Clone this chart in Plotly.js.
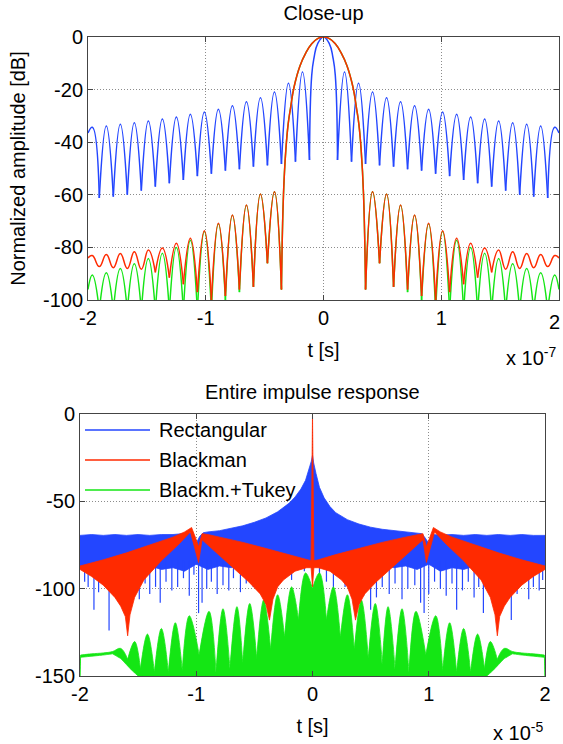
<!DOCTYPE html>
<html>
<head>
<meta charset="utf-8">
<script src="https://cdn.plot.ly/plotly-3.0.1.min.js"></script>
<style>html,body{margin:0;padding:0;background:#fff;}#chart{width:563px;height:744px;}</style>
</head>
<body>
<div id="chart"></div>
<script>
// ===== Close-up (time in units of 1e-7 s, amplitude in dB) =====
// Rectangular: lobe boundaries (nulls and plot edges) and rounded lobe points (peaks, main lobe)
const blueCuspT = [-2, -1.904, -1.785, -1.666, -1.547, -1.428, -1.309, -1.190, -1.071, -0.952, -0.833, -0.714, -0.595, -0.476, -0.357, -0.238, -0.119, 0.119, 0.238, 0.357, 0.476, 0.595, 0.714, 0.833, 0.952, 1.071, 1.190, 1.309, 1.428, 1.547, 1.666, 1.785, 1.904, 2];
const blueCuspDb = [-36.5, -61.2, -60.7, -60.0, -58.4, -56.9, -55.6, -54.4, -52.9, -52.0, -50.8, -50.3, -49.3, -48.8, -48.3, -47.4, -46.8, -46.8, -47.4, -48.3, -48.8, -49.3, -50.3, -50.8, -52.0, -52.9, -54.4, -55.6, -56.9, -58.4, -60.0, -60.7, -61.2, -36.5];
const blueRoundT = [-1.9635, -1.8445, -1.7255, -1.6065, -1.4875, -1.3685, -1.2495, -1.1305, -1.0115, -0.8925, -0.7735, -0.6545, -0.5355, -0.4165, -0.2975, -0.1785, -0.1, -0.08, -0.05, 0, 0.05, 0.08, 0.1, 0.1785, 0.2975, 0.4165, 0.5355, 0.6545, 0.7735, 0.8925, 1.0115, 1.1305, 1.2495, 1.3685, 1.4875, 1.6065, 1.7255, 1.8445, 1.9635];
const blueRoundDb = [-34.3, -33.8, -33.2, -32.6, -31.9, -31.2, -30.4, -29.4, -28.5, -27.5, -26.1, -24.6, -23.1, -20.9, -17.6, -13.3, -14.5, -7.8, -2.6, 0, -2.6, -7.8, -14.5, -13.3, -17.6, -20.9, -23.1, -24.6, -26.1, -27.5, -28.5, -29.4, -30.4, -31.2, -31.9, -32.6, -33.2, -33.8, -34.3];

// Blackman
const redCuspT = [-2, -1.428, -1.309, -1.190, -1.071, -0.952, -0.833, -0.714, -0.595, -0.476, -0.357, 0.357, 0.476, 0.595, 0.714, 0.833, 0.952, 1.071, 1.190, 1.309, 1.428, 2];
const redCuspDb = [-84, -89.5, -91.5, -94, -97, -100, -98.5, -96, -95, -86, -96, -96, -86, -95, -96, -98.5, -100, -97, -94, -91.5, -89.5, -84];
const redRoundT = [-1.9635, -1.904, -1.8445, -1.785, -1.7255, -1.666, -1.6065, -1.547, -1.4875, -1.3685, -1.2495, -1.1305, -1.0115, -0.8925, -0.7735, -0.6545, -0.5355, -0.4165,
  -0.34, -0.32, -0.3, -0.28, -0.25, -0.2, -0.15, -0.1, -0.05, 0, 0.05, 0.1, 0.15, 0.2, 0.25, 0.28, 0.3, 0.32, 0.34,
  0.4165, 0.5355, 0.6545, 0.7735, 0.8925, 1.0115, 1.1305, 1.2495, 1.3685, 1.4875, 1.547, 1.6065, 1.666, 1.7255, 1.785, 1.8445, 1.904, 1.9635];
const redRoundDb = [-83.1, -87.3, -82.7, -87.7, -82.3, -88, -81.7, -88.3, -81, -80.2, -78.4, -76.5, -73.7, -70.8, -67.7, -63.9, -59.7, -58.8,
  -60, -43, -33, -27, -19, -11, -6, -2.6, -0.6, 0, -0.6, -2.6, -6, -11, -19, -27, -33, -43, -60,
  -58.8, -59.7, -63.9, -67.7, -70.8, -73.7, -76.5, -78.4, -80.2, -81, -88.3, -81.7, -88, -82.3, -87.7, -82.7, -87.3, -83.1];

// Blackman + Tukey (main lobe identical to Blackman)
const greenCuspT = [-2, -1.904, -1.785, -1.666, -1.547, -1.428, -1.309, -1.190, -1.071, -0.952, -0.833, -0.714, -0.595, -0.476, -0.357, 0.357, 0.476, 0.595, 0.714, 0.833, 0.952, 1.071, 1.190, 1.309, 1.428, 1.547, 1.666, 1.785, 1.904, 2];
const greenCuspDb = [-96, -104, -104, -104, -104, -104, -104, -104, -104, -104, -100, -97, -95, -86, -96, -96, -86, -95, -97, -100, -104, -104, -104, -104, -104, -104, -104, -104, -104, -96];
const greenRoundT = [-1.9635, -1.8445, -1.7255, -1.6065, -1.4875, -1.3685, -1.2495, -1.1305, -1.0115, -0.8925, -0.7735, -0.6545, -0.5355, -0.4165,
  -0.34, -0.32, -0.3, -0.28, -0.25, -0.2, -0.15, -0.1, -0.05, 0, 0.05, 0.1, 0.15, 0.2, 0.25, 0.28, 0.3, 0.32, 0.34,
  0.4165, 0.5355, 0.6545, 0.7735, 0.8925, 1.0115, 1.1305, 1.2495, 1.3685, 1.4875, 1.6065, 1.7255, 1.8445, 1.9635];
const greenRoundDb = [-90.5, -89.6, -88, -86.2, -84.2, -82.2, -80, -77.3, -74, -71, -67.8, -64, -59.7, -58.8,
  -60, -43, -33, -27, -19, -11, -6, -2.6, -0.6, 0, -0.6, -2.6, -6, -11, -19, -27, -33, -43, -60,
  -58.8, -59.7, -64, -67.8, -71, -74, -77.3, -80, -82.2, -84.2, -86.2, -88, -89.6, -90.5];

// ===== Entire impulse response (time in units of 1e-5 s, amplitude in dB) =====
const blueUpperT = [-2, -1.9, -1.8, -1.7, -1.6, -1.5, -1.4, -1.3, -1.2, -1.1, -1.03, -1.0, -0.97, -0.94, -0.9, -0.8, -0.7, -0.6, -0.5, -0.4, -0.3, -0.2, -0.15, -0.1, -0.06, -0.03, -0.01, 0, 0.01, 0.03, 0.06, 0.1, 0.15, 0.2, 0.3, 0.4, 0.5, 0.6, 0.7, 0.8, 0.9, 0.94, 0.97, 1.0, 1.03, 1.1, 1.2, 1.3, 1.4, 1.5, 1.6, 1.7, 1.8, 1.9, 2];
const blueUpperDb = [-69.5, -69, -69.5, -69, -69.5, -69, -69.5, -69, -69, -68.5, -68, -74, -70, -68, -67.5, -66.8, -65.5, -64, -62, -59.5, -56, -51, -47.5, -43, -38, -32, -27, -23.5, -28, -34, -42, -48, -53, -56.5, -60.5, -63, -64.8, -66, -66.8, -67.5, -68, -68.5, -71, -74, -69, -69.3, -69, -69.5, -69, -69.5, -69, -69.5, -69, -69.5, -69.5];
const blueLowerT = [-2, -1.9, -1.8, -1.7, -1.6, -1.5, -1.4, -1.3, -1.2, -1.1, -1, -0.9, -0.8, -0.7, -0.6, -0.5, -0.4, -0.3, -0.2, -0.1, 0, 0.1, 0.2, 0.3, 0.4, 0.5, 0.6, 0.7, 0.8, 0.9, 1, 1.1, 1.2, 1.3, 1.4, 1.5, 1.6, 1.7, 1.8, 1.9, 2];
const blueLowerDb = [-88, -90, -87, -91, -88, -90, -87, -89, -88, -90, -86, -89, -87, -88, -86, -89, -87, -88, -86, -87, -85, -87, -86, -88, -87, -89, -86, -88, -87, -89, -86, -90, -88, -89, -87, -90, -88, -91, -87, -90, -88];
const blueSpikeT = [-1.96, -1.93, -1.88, -1.84, -1.80, -1.75, -1.71, -1.66, -1.62, -1.58, -1.53, -1.49, -1.44, -1.40, -1.35, -1.31, -1.26, -1.21, -1.16, -1.11, -1.06, -1.02, -0.98, -0.95, -0.91, -0.87, -0.82, -0.77, -0.72, -0.68, -0.62, -0.57, -0.51, -0.46, -0.41, -0.35, -0.30, -0.24, -0.18, -0.12, -0.07,
  0.06, 0.12, 0.18, 0.23, 0.28, 0.33, 0.38, 0.44, 0.50, 0.55, 0.60, 0.66, 0.71, 0.77, 0.82, 0.88, 0.93, 0.96, 1.00, 1.05, 1.10, 1.15, 1.20, 1.24, 1.29, 1.34, 1.39, 1.43, 1.47, 1.52, 1.57, 1.62, 1.67, 1.71, 1.76, 1.81, 1.86, 1.90, 1.95, 1.98];
const blueSpikeDb = [-96, -99, -112, -102, -95, -124, -104, -98, -110, -114, -100, -106, -97, -103, -99, -108, -96, -101, -99, -94, -104, -92, -114, -108, -100, -96, -103, -98, -101, -94, -102, -97, -99, -92, -103, -94, -98, -91, -95, -88, -90,
  -92, -96, -103, -93, -99, -95, -101, -104, -112, -105, -99, -103, -97, -106, -100, -98, -108, -114, -103, -96, -100, -104, -97, -112, -101, -96, -105, -99, -114, -102, -96, -108, -100, -118, -103, -97, -106, -99, -101, -95];

const redUpperT = [-2, -1.8, -1.6, -1.4, -1.2, -1.1, -1.04, -1.0, -0.98, -0.95, -0.9, -0.8, -0.6, -0.4, -0.2, -0.05, -0.012, 0, 0.012, 0.05, 0.2, 0.4, 0.6, 0.8, 0.9, 0.95, 0.98, 1.0, 1.04, 1.1, 1.2, 1.4, 1.6, 1.8, 2];
const redUpperDb = [-87, -83.5, -79.5, -75, -70.5, -67.5, -65, -72, -76, -68.5, -69, -70.5, -73.5, -77, -80.5, -83.5, -84, 0, -84, -83.5, -80.5, -77, -73.5, -70.5, -69, -68.5, -76, -72, -65, -67.5, -70.5, -75, -79.5, -83.5, -87];
const redLowerT = [-2, -1.9, -1.8, -1.7, -1.65, -1.61, -1.59, -1.57, -1.53, -1.45, -1.3, -1.15, -1.05, -1.0, -0.98, -0.95, -0.85, -0.7, -0.55, -0.45, -0.4, -0.37, -0.34, -0.3, -0.25, -0.15, -0.05, -0.012, 0,
  0.012, 0.05, 0.15, 0.25, 0.3, 0.34, 0.37, 0.4, 0.45, 0.55, 0.7, 0.85, 0.95, 0.98, 1.0, 1.05, 1.15, 1.3, 1.45, 1.53, 1.57, 1.59, 1.61, 1.65, 1.7, 1.8, 1.9, 2];
const redLowerDb = [-89, -93, -98, -105, -110, -116, -127, -115, -105, -95, -84, -74.5, -67.5, -80, -85, -72, -78, -87, -96, -103, -109, -118, -106, -99, -95, -90, -88, -88, -99,
  -88, -88, -90, -95, -99, -106, -118, -109, -103, -96, -87, -78, -72, -85, -80, -67.5, -74.5, -84, -95, -105, -115, -127, -116, -110, -105, -98, -93, -89];

// Blackman + Tukey: upper edge = rounded bumps (peaks, flat tail) and sharp gaps (troughs, plot edges)
const greenPeakT = [-1.9, -1.8, -1.72, -1.65, -1.53, -1.42, -1.30, -1.18, -1.06, -0.89, -0.77, -0.65, -0.54, -0.42, -0.30, -0.18, -0.06,
  0.06, 0.18, 0.30, 0.42, 0.54, 0.65, 0.77, 0.89, 1.06, 1.18, 1.30, 1.42, 1.53, 1.65, 1.72, 1.8, 1.9];
const greenPeakDb = [-137.3, -136.8, -136, -134.2, -130.3, -126, -122.8, -119.5, -115.5, -113, -111.5, -110.3, -108.5, -106.5, -103.5, -99, -91,
  -91, -99, -103.5, -106.5, -108.5, -110.3, -111.5, -113, -115.5, -119.5, -122.8, -126, -130.3, -134.2, -136, -136.8, -137.3];
const greenTroughT = [-2, -1.995, -1.59, -1.48, -1.36, -1.24, -1.12, -0.975, -0.83, -0.71, -0.6, -0.48, -0.36, -0.24, -0.12, 0,
  0.12, 0.24, 0.36, 0.48, 0.6, 0.71, 0.83, 0.975, 1.12, 1.24, 1.36, 1.48, 1.59, 1.995, 2];
const greenTroughDb = [-150, -138, -140.5, -146, -148, -148, -147, -138, -148, -146, -143, -140, -135, -128, -118, -100,
  -118, -128, -135, -140, -143, -146, -148, -138, -147, -148, -148, -146, -140.5, -138, -150];
const greenLowerT = [-2, -1.995, -1.8, -1.72, -1.65, -1.6, -1.55, -1.5, 1.5, 1.55, 1.6, 1.65, 1.72, 1.8, 1.995, 2];
const greenLowerDb = [-150, -139.3, -138, -137.3, -140, -143.5, -147, -150, -150, -147, -143.5, -140, -137.3, -138, -139.3, -150];

const seriesNames = ['Rectangular', 'Blackman', 'Blackm.+Tukey'];
const xTickVals = [-2, -1, 0, 1, 2];
const xTickText = ['-2', '-1', '0', '1', '2'];
const yTopTicks = [-100, -80, -60, -40, -20, 0];
const yBotTicks = [-150, -100, -50, 0];

// ===== styling =====
const BLUE = '#2346ff', RED = '#ff2a00', GREEN = '#14e614';
const FONT = 'Liberation Sans, Arial, Helvetica, sans-serif';

// Merge smooth points and cusp points; a cusp point is repeated so the spline turns sharply there
function mergePts(cuspT, cuspV, roundT, roundV) {
  const pts = [];
  cuspT.forEach((t, i) => pts.push({t: t, v: cuspV[i], c: true}));
  roundT.forEach((t, i) => pts.push({t: t, v: roundV[i], c: false}));
  pts.sort((a, b) => a.t - b.t);
  return pts;
}
// open curve: segments split at cusps
function lobeCurve(cuspT, cuspDb, roundT, roundDb) {
  const pts = mergePts(cuspT, cuspDb, roundT, roundDb);
  const x = [], y = [];
  pts.forEach((p, i) => {
    x.push(p.t); y.push(p.v);
    if (p.c && i > 0 && i < pts.length - 1) { x.push(null); y.push(null); x.push(p.t); y.push(p.v); }
  });
  return {x: x, y: y};
}
function band(upT, upV, loT, loV) {
  return {x: upT.concat(loT.slice().reverse()), y: upV.concat(loV.slice().reverse())};
}
function smoothBand(cuspT, cuspV, roundT, roundV, loT, loV) {
  const pts = mergePts(cuspT, cuspV, roundT, roundV);
  const x = [], y = [];
  pts.forEach(p => { x.push(p.t); y.push(p.v); if (p.c) { x.push(p.t); y.push(p.v); } });
  for (let i = loT.length - 1; i >= 0; i--) { x.push(loT[i], loT[i]); y.push(loV[i], loV[i]); }
  return {x: x, y: y};
}
function spikes(t, v, base) {
  const x = [], y = [];
  t.forEach((tt, i) => { x.push(tt, tt, null); y.push(base, v[i], null); });
  return {x: x, y: y};
}

const bC = lobeCurve(blueCuspT, blueCuspDb, blueRoundT, blueRoundDb);
const rC = lobeCurve(redCuspT, redCuspDb, redRoundT, redRoundDb);
const gC = lobeCurve(greenCuspT, greenCuspDb, greenRoundT, greenRoundDb);
const bB = band(blueUpperT, blueUpperDb, blueLowerT, blueLowerDb);
const rB = band(redUpperT, redUpperDb, redLowerT, redLowerDb);
const gB = smoothBand(greenTroughT, greenTroughDb, greenPeakT, greenPeakDb, greenLowerT, greenLowerDb);
const bS = spikes(blueSpikeT, blueSpikeDb, -84);

const lineTop = (c) => ({color: c, width: 1.5, shape: 'spline', smoothing: 1.3});
const traces = [
  {x: bC.x, y: bC.y, type: 'scatter', mode: 'lines', name: seriesNames[0], line: lineTop(BLUE), connectgaps: false, xaxis: 'x', yaxis: 'y', showlegend: false},
  {x: gC.x, y: gC.y, type: 'scatter', mode: 'lines', name: seriesNames[2], line: lineTop(GREEN), connectgaps: false, xaxis: 'x', yaxis: 'y', showlegend: false},
  {x: rC.x, y: rC.y, type: 'scatter', mode: 'lines', name: seriesNames[1], line: lineTop(RED), connectgaps: false, xaxis: 'x', yaxis: 'y', showlegend: false},
  {x: bB.x, y: bB.y, type: 'scatter', mode: 'lines', fill: 'toself', fillcolor: BLUE, line: {color: BLUE, width: 0.8}, name: seriesNames[0], xaxis: 'x2', yaxis: 'y2', showlegend: false},
  {x: bS.x, y: bS.y, type: 'scatter', mode: 'lines', line: {color: BLUE, width: 1.2}, name: seriesNames[0], xaxis: 'x2', yaxis: 'y2', showlegend: false},
  {x: gB.x, y: gB.y, type: 'scatter', mode: 'lines', fill: 'toself', fillcolor: GREEN, line: {color: GREEN, width: 0.8, shape: 'spline', smoothing: 1.2, simplify: false}, name: seriesNames[2], xaxis: 'x2', yaxis: 'y2', showlegend: false},
  {x: rB.x, y: rB.y, type: 'scatter', mode: 'lines', fill: 'toself', fillcolor: RED, line: {color: RED, width: 0.8}, name: seriesNames[1], xaxis: 'x2', yaxis: 'y2', showlegend: false}
];

const W = 563, H = 744;
const px = (v) => v / W, py = (v) => (H - v) / H;
const axisCommon = {
  showline: true, linecolor: '#444', linewidth: 1, mirror: 'ticks',
  ticks: 'inside', ticklen: 5, tickcolor: '#444',
  showgrid: true, gridcolor: '#8c8c8c', griddash: '1px,2px', gridwidth: 1,
  zeroline: false, tickfont: {family: FONT, size: 20, color: '#000'}, fixedrange: true
};

// manual legend (long line samples like the original)
const legendY = [430, 460, 490];
const legendColors = [BLUE, RED, GREEN];
const shapes = legendY.map((yy, i) => ({type: 'line', xref: 'paper', yref: 'paper', x0: px(85), x1: px(150), y0: py(yy), y1: py(yy), line: {color: legendColors[i], width: 1.5}}));
const annotations = legendY.map((yy, i) => ({xref: 'paper', yref: 'paper', x: px(157), y: py(yy), xanchor: 'left', yanchor: 'middle', text: seriesNames[i], showarrow: false, font: {family: FONT, size: 20, color: '#000'}}));
annotations.push(
  {xref: 'paper', yref: 'paper', x: px(312.5), y: py(392), xanchor: 'center', yanchor: 'middle', text: 'Entire impulse response', showarrow: false, font: {family: FONT, size: 20, color: '#000'}},
  // last tick label of the close-up sits against the right edge of the page
  {xref: 'paper', yref: 'paper', x: px(562), y: py(322), xanchor: 'right', yanchor: 'middle', text: xTickText[4], showarrow: false, font: {family: FONT, size: 20, color: '#000'}},
  {xref: 'paper', yref: 'paper', x: px(558), y: py(371), xanchor: 'right', yanchor: 'bottom', text: 'x 10<sup>-7</sup>', showarrow: false, font: {family: FONT, size: 20, color: '#000'}},
  {xref: 'paper', yref: 'paper', x: px(545), y: py(746), xanchor: 'right', yanchor: 'bottom', text: 'x 10<sup>-5</sup>', showarrow: false, font: {family: FONT, size: 20, color: '#000'}}
);

const layout = {
  width: W, height: H, margin: {l: 0, r: 0, t: 0, b: 0},
  paper_bgcolor: '#fff', plot_bgcolor: '#fff', showlegend: false,
  font: {family: FONT, size: 20, color: '#000'},
  title: {text: 'Close-up', x: px(323.5), xanchor: 'center', y: py(13), yanchor: 'middle', font: {family: FONT, size: 20, color: '#000'}},
  xaxis: Object.assign({}, axisCommon, {domain: [px(88), px(559)], anchor: 'y', range: [-2, 2], tickvals: xTickVals.slice(0, 4), ticktext: xTickText.slice(0, 4),
    title: {text: 't [s]', font: {family: FONT, size: 20}, standoff: 14}}),
  yaxis: Object.assign({}, axisCommon, {domain: [py(300), py(37)], anchor: 'x', range: [-100, 0], tickvals: yTopTicks, ticktext: yTopTicks.map(String),
    title: {text: 'Normalized amplitude [dB]', font: {family: FONT, size: 20}, standoff: 11}}),
  xaxis2: Object.assign({}, axisCommon, {domain: [px(80), px(545)], anchor: 'y2', range: [-2, 2], tickvals: xTickVals, ticktext: xTickText,
    title: {text: 't [s]', font: {family: FONT, size: 20}, standoff: 14}}),
  yaxis2: Object.assign({}, axisCommon, {domain: [py(676), py(414)], anchor: 'x2', range: [-150, 0], tickvals: yBotTicks, ticktext: yBotTicks.map(String)}),
  shapes: shapes, annotations: annotations
};

Plotly.newPlot('chart', traces, layout, {staticPlot: true, displayModeBar: false});
</script>
</body>
</html>
